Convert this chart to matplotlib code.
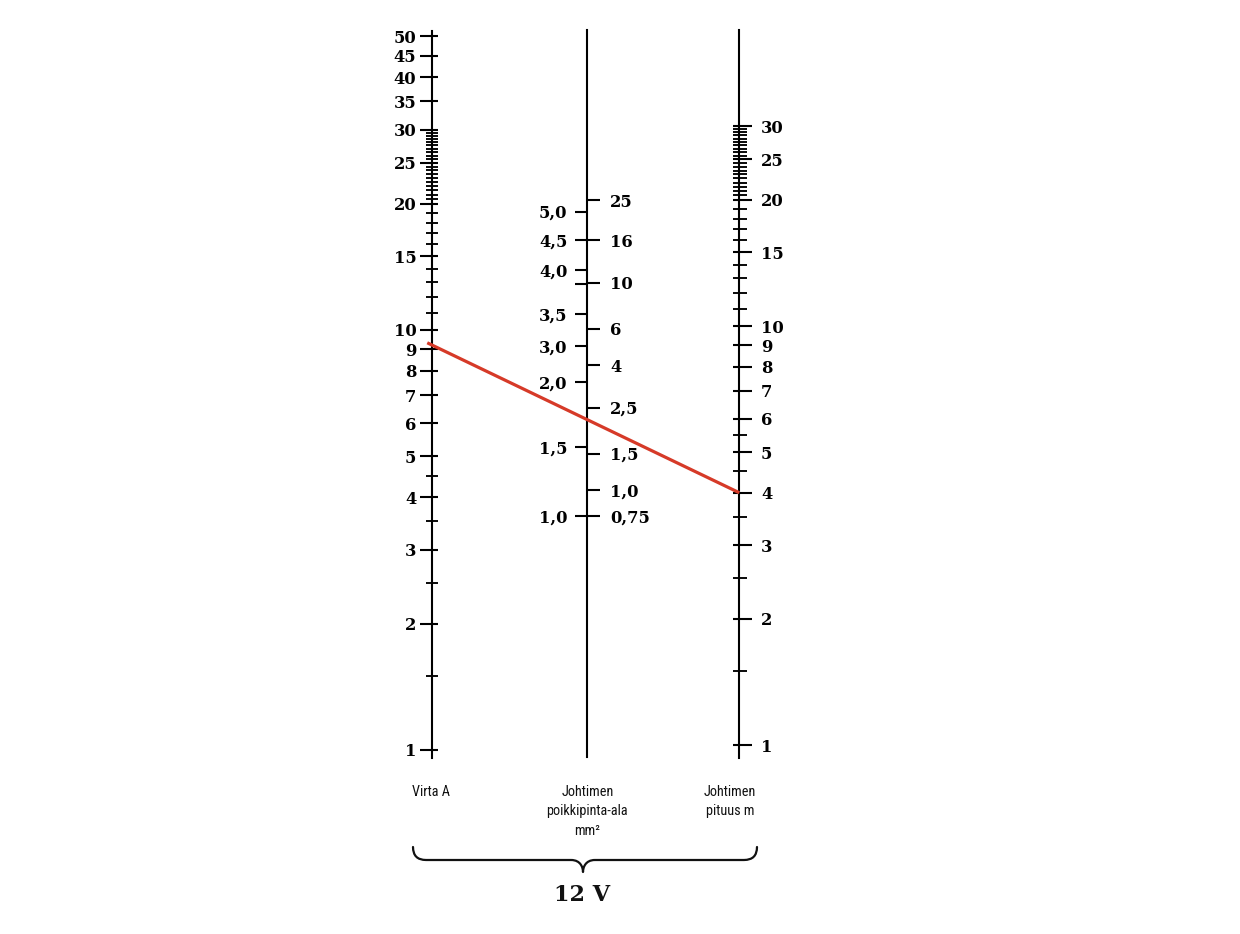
import numpy as np
import matplotlib
matplotlib.use("Agg")
import matplotlib.pyplot as plt
from matplotlib.ticker import FixedLocator, FixedFormatter, NullFormatter, NullLocator
from matplotlib.path import Path
from matplotlib.patches import PathPatch
from matplotlib.lines import Line2D
from matplotlib import font_manager
from matplotlib.font_manager import FontProperties

# ---------------- data ----------------
# Left scale: current (A)
current_major = [1, 2, 3, 4, 5, 6, 7, 8, 9, 10, 15, 20, 25, 30, 35, 40, 45, 50]
current_minor = [1.5, 2.5, 3.5, 4.5, 11, 12, 13, 14, 16, 17, 18, 19,
                 20.5, 21, 21.5, 22, 22.5, 23, 23.5, 24, 24.5,
                 25.5, 26, 26.5, 27, 27.5, 28, 28.5, 29, 29.5]

# Middle scale: conductor cross-section (mm2), right side labels
area_values = [0.75, 1.0, 1.5, 2.5, 4, 6, 10, 16, 25]
area_labels = ["0,75", "1,0", "1,5", "2,5", "4", "6", "10", "16", "25"]
# Middle scale, left side labels (placed at the equivalent cross-section)
mid_left_area = [0.75, 1.62, 3.33, 4.96, 7.06, 11.5, 16, 22]
mid_left_labels = ["1,0", "1,5", "2,0", "3,0", "3,5", "4,0", "4,5", "5,0"]
mid_left_extra = [9.8]

# Right scale: conductor length (m)
length_major = [1, 2, 3, 4, 5, 6, 7, 8, 9, 10, 15, 20, 25, 30]
length_labels = [str(v) for v in length_major]
length_minor = [1.5, 2.5, 3.5, 4.5, 5.5, 11, 12, 13, 14, 16, 17, 18, 19,
                20.5, 21, 21.5, 22, 22.5, 23, 23.5, 24, 24.5,
                25.5, 26, 26.5, 27, 27.5, 28, 28.5, 29, 29.5]

# Example reading (red line)
example_current = 9.2
example_length = 4

axis_titles = ["Virta A", "Johtimen\npoikkipinta-ala\nmm²", "Johtimen\npituus m"]
voltage_label = "12 V"

# ---------------- figure ----------------
W, H = 1240, 934
DPI = 100
fig = plt.figure(figsize=(W / DPI, H / DPI), dpi=DPI)
fig.patch.set_facecolor("white")
PX = 72.0 / DPI  # points per pixel

serif = "DejaVu Serif"


def pick_narrow():
    entries = font_manager.fontManager.ttflist
    prefs = ["Liberation Sans Narrow", "Roboto Condensed", "Open Sans Condensed"]
    for want in prefs:
        for f in entries:
            if f.name == want and f.style == "normal":
                return FontProperties(fname=f.fname), True
    for f in entries:
        st = str(f.stretch)
        if f.style == "normal" and (st in ("condensed", "semi-condensed", "extra-condensed")
                                    or (isinstance(f.stretch, int) and f.stretch < 500)) \
                and "Serif" not in f.name and "Mono" not in f.name and f.weight in (400, "normal", "regular", 500, "medium"):
            return FontProperties(fname=f.fname), True
    for f in entries:
        n = f.fname.lower()
        if ("condensed" in n or "narrow" in n) and "serif" not in n and "mono" not in n \
                and "bold" not in n and "italic" not in n and "oblique" not in n:
            return FontProperties(fname=f.fname), True
    return FontProperties(family="Liberation Sans"), False


narrow_fp, is_narrow = pick_narrow()
narrow_fp.set_size(10.3 if is_narrow else 9.5)

LW = 1.5
TICK_W = 1.5
MINOR_W = 1.35
LABEL_SIZE = 11.8
LABEL_WEIGHT = "bold"


def scale_axes(x_px, y_top, y_bot, v0, p0, k):
    """Axes whose log y-scale maps value v0 to pixel row p0 with k px per decade."""
    ax = fig.add_axes([x_px / W, 1 - y_bot / H, 0.0001, (y_bot - y_top) / H])
    ax.set_yscale("log")
    ax.set_ylim(v0 * 10 ** ((p0 - y_bot) / k), v0 * 10 ** ((p0 - y_top) / k))
    ax.set_xlim(0, 1)
    ax.patch.set_visible(False)
    for s in ax.spines.values():
        s.set_visible(False)
    ax.xaxis.set_major_locator(NullLocator())
    ax.xaxis.set_minor_locator(NullLocator())
    return ax


def set_ticks(ax, major, labels, minor):
    ax.yaxis.set_major_locator(FixedLocator(major))
    ax.yaxis.set_major_formatter(FixedFormatter(labels) if labels else NullFormatter())
    ax.yaxis.set_minor_locator(FixedLocator(minor))
    ax.yaxis.set_minor_formatter(NullFormatter())


def bold_labels(ax):
    for lab in ax.get_yticklabels():
        lab.set_fontweight(LABEL_WEIGHT)


# ---- left scale (current) ----
L_X, L_P0, L_K = 432.3, 750, 420
axL = scale_axes(L_X, 31, 758, 1, L_P0, L_K)
axL.spines["left"].set_visible(True)
axL.spines["left"].set_linewidth(LW)
set_ticks(axL, current_major, [str(v) for v in current_major], current_minor)
axL.tick_params(axis="y", which="major", left=True, right=False, labelleft=True, labelright=False,
                direction="out", length=12 * PX, width=TICK_W, pad=4 * PX,
                labelsize=LABEL_SIZE, labelfontfamily=serif)
axL.tick_params(axis="y", which="minor", left=True, right=False, direction="out",
                length=6.5 * PX, width=MINOR_W)
axL2 = scale_axes(L_X, 31, 758, 1, L_P0, L_K)
set_ticks(axL2, current_major, None, current_minor)
axL2.tick_params(axis="y", which="major", left=False, right=True, labelleft=False, labelright=False,
                 direction="out", length=6 * PX, width=TICK_W)
axL2.tick_params(axis="y", which="minor", left=False, right=True, labelleft=False, labelright=False,
                 direction="out", length=6 * PX, width=MINOR_W)

# ---- middle scale (cross-section) ----
M_X, M_P0, M_K = 587.3, 516, 207.5
axML = scale_axes(M_X, 30, 757, 0.75, M_P0, M_K)
axML.spines["left"].set_visible(True)
axML.spines["left"].set_linewidth(LW)
set_ticks(axML, mid_left_area + mid_left_extra, mid_left_labels + [""] * len(mid_left_extra), [])
axML.tick_params(axis="y", which="major", left=True, right=False, labelleft=True, labelright=False,
                 direction="out", length=12 * PX, width=TICK_W, pad=8 * PX,
                 labelsize=LABEL_SIZE, labelfontfamily=serif)
axMR = scale_axes(M_X, 30, 757, 0.75, M_P0, M_K)
set_ticks(axMR, area_values, area_labels, [])
axMR.tick_params(axis="y", which="major", left=False, right=True, labelleft=False, labelright=True,
                 direction="out", length=12.5 * PX, width=TICK_W, pad=10 * PX,
                 labelsize=LABEL_SIZE, labelfontfamily=serif)

# ---- right scale (length) ----
R_X, R_P0, R_K = 739.3, 745, 419
axRR = scale_axes(R_X, 30, 758, 1, R_P0, R_K)
axRR.spines["left"].set_visible(True)
axRR.spines["left"].set_linewidth(LW)
set_ticks(axRR, length_major, length_labels, length_minor)
axRR.tick_params(axis="y", which="major", left=False, right=True, labelleft=False, labelright=True,
                 direction="out", length=12.5 * PX, width=TICK_W, pad=9 * PX,
                 labelsize=LABEL_SIZE, labelfontfamily=serif)
axRR.tick_params(axis="y", which="minor", left=False, right=True, direction="out",
                 length=7.5 * PX, width=MINOR_W)
axRL = scale_axes(R_X, 30, 758, 1, R_P0, R_K)
set_ticks(axRL, length_major, None, length_minor)
axRL.tick_params(axis="y", which="major", left=True, right=False, labelleft=False, labelright=False,
                 direction="out", length=6 * PX, width=TICK_W)
axRL.tick_params(axis="y", which="minor", left=True, right=False, labelleft=False, labelright=False,
                 direction="out", length=6 * PX, width=MINOR_W)

for a in (axL, axML, axMR, axRR):
    bold_labels(a)

# ---------------- overlay (pixel coordinates) ----------------
axO = fig.add_axes([0, 0, 1, 1])
axO.set_xlim(0, W)
axO.set_ylim(H, 0)
axO.axis("off")
axO.patch.set_visible(False)

# red example line through the scales
fig.canvas.draw()
pA = axL.transData.transform((0, example_current))
pB = axRR.transData.transform((0, example_length))
d = pB - pA
pA_ext = pA - d * (5.6 / np.hypot(*d))
to_fig = fig.transFigure.inverted()
fa = to_fig.transform(pA_ext)
fb = to_fig.transform(pB)
fig.add_artist(Line2D([fa[0], fb[0]], [fa[1], fb[1]], transform=fig.transFigure,
                      color="#d63a28", lw=2.3, solid_capstyle="butt", zorder=10))

# axis titles
tkw = dict(fontproperties=narrow_fp, ha="center", va="center", color="#111111")
axO.text(L_X - 1, 792, axis_titles[0], **tkw)
for i, line in enumerate(axis_titles[1].split("\n")):
    axO.text(M_X, 792 + 19.5 * i, line, **tkw)
for i, line in enumerate(axis_titles[2].split("\n")):
    axO.text(730, 792 + 19.5 * i, line, **tkw)

# brace
bx0, bx1, bxc = 413, 757, 583
by_top, by_mid, by_tip = 847, 860, 872
verts = [(bx0, by_top), (bx0, by_mid), (bx0 + 13, by_mid),
         (bxc - 12, by_mid),
         (bxc - 2, by_mid), (bxc, by_tip - 4), (bxc, by_tip),
         (bxc, by_tip - 4), (bxc + 2, by_mid), (bxc + 12, by_mid),
         (bx1 - 13, by_mid),
         (bx1, by_mid), (bx1, by_top)]
codes = [Path.MOVETO, Path.CURVE3, Path.CURVE3,
         Path.LINETO,
         Path.CURVE4, Path.CURVE4, Path.CURVE4,
         Path.CURVE4, Path.CURVE4, Path.CURVE4,
         Path.LINETO,
         Path.CURVE3, Path.CURVE3]
axO.add_patch(PathPatch(Path(verts, codes), facecolor="none", edgecolor="#111111", lw=1.6,
                        capstyle="round", joinstyle="round"))

axO.text(bxc - 1, 895, voltage_label, family=serif, fontweight="bold", fontsize=16,
         ha="center", va="center", color="#111111")

fig.savefig("out.png", dpi=DPI, facecolor="white")
